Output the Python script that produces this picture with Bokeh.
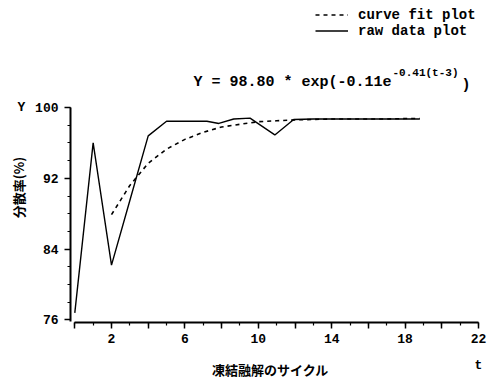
from bokeh.plotting import figure
from bokeh.models import Range1d, FixedTicker, Label, Legend, LegendItem
from bokeh.embed import file_html
from bokeh.resources import INLINE

# ---- data ----
raw_t = [0, 1, 2, 3, 4, 5, 6, 7.2, 7.85, 8.66, 9.55, 10.9, 11.93, 13, 14, 15, 16, 17, 18, 18.8]
raw_y = [76.8, 96.0, 82.2, 89.5, 96.8, 98.45, 98.45, 98.45, 98.2, 98.7, 98.8, 96.9, 98.65,
         98.7, 98.7, 98.7, 98.7, 98.7, 98.7, 98.7]

fit_t = [2, 3, 4, 5, 6, 7, 8, 9, 10, 11, 12, 13, 14, 15, 16, 17, 18, 18.8]
fit_y = [87.9, 91.2, 93.7, 95.3, 96.4, 97.2, 97.8, 98.1, 98.4, 98.5, 98.6, 98.65,
         98.7, 98.7, 98.7, 98.7, 98.75, 98.75]

x_major = [0, 2, 4, 6, 8, 10, 12, 14, 16, 18, 20, 22]
x_labeled = [2, 6, 10, 14, 18, 22]
x_minor = list(range(0, 23))
y_major = [76, 84, 92, 100]
y_minor = list(range(76, 101, 2))

legend_labels = ["curve fit plot", "raw data plot"]
formula_main = "Y = 98.80 * exp(-0.11e"
formula_sup = "-0.41(t-3)"
formula_end = ")"
y_title = "分散率(%)"
x_title = "凍結融解のサイクル"

# ---- layout (frame covers the whole canvas; axes sit at fixed locations) ----
W, H = 488, 378
XS = 18.35          # px per t unit
YS = 8.854          # px per Y unit
X0 = -74.3 / XS     # so that t=0 sits at x=74.3 px
X1 = X0 + W / XS
Y1 = 100 + 107 / YS  # so that Y=100 sits at y=107 px
Y0 = Y1 - H / YS


def dx(sx):  # canvas px -> data
    return X0 + sx / XS


def dy(sy):
    return Y1 - sy / YS


MONO = "Liberation Mono"
CJK = "Noto Sans CJK JP"

p = figure(width=W, height=H, x_range=Range1d(X0, X1), y_range=Range1d(Y0, Y1),
           output_backend="svg", toolbar_location=None, min_border=0)
p.grid.visible = False
p.outline_line_color = None
p.background_fill_color = "white"
p.border_fill_color = "white"

fit = p.line(fit_t, fit_y, line_color="black", line_width=1.6, line_dash="4 4")
raw = p.line(raw_t, raw_y, line_color="black", line_width=1.4)

for ax in (p.xaxis[0], p.yaxis[0]):
    ax.axis_line_width = 2
    ax.axis_line_color = "black"
    ax.major_tick_line_width = 1.5
    ax.minor_tick_line_width = 1.2
    ax.major_tick_line_color = "black"
    ax.minor_tick_line_color = "black"
    ax.major_tick_in = 0
    ax.minor_tick_in = 0
    ax.major_tick_out = 6
    ax.minor_tick_out = 3
    ax.major_label_text_font = MONO
    ax.major_label_text_font_size = "13px"
    ax.major_label_text_font_style = "bold"
    ax.major_label_text_color = "black"

xa = p.xaxis[0]
xa.fixed_location = dy(322)
xa.bounds = (0, 22)
xa.ticker = FixedTicker(ticks=x_major, minor_ticks=x_minor)
xa.major_label_overrides = {t: ("" if t not in x_labeled else str(t)) for t in x_major}
xa.major_label_standoff = 5

ya = p.yaxis[0]
ya.fixed_location = dx(70)
ya.bounds = (dy(321), 100)
ya.ticker = FixedTicker(ticks=y_major, minor_ticks=y_minor)
ya.major_label_standoff = 6

legend = Legend(items=[LegendItem(label=legend_labels[0], renderers=[fit]),
                       LegendItem(label=legend_labels[1], renderers=[raw])],
                location=(315, H - 38.5), orientation="vertical")
legend.border_line_color = None
legend.background_fill_alpha = 0
legend.padding = 0
legend.margin = 0
legend.spacing = 0
legend.glyph_width = 33
legend.glyph_height = 15
legend.label_height = 15
legend.label_standoff = 10
legend.label_text_font = MONO
legend.label_text_font_size = "14px"
legend.label_text_font_style = "bold"
legend.label_text_color = "black"
p.add_layout(legend)


def lab(text, sx, sy, size, font=MONO, align="left", style="bold", angle=0.0):
    p.add_layout(Label(x=dx(sx), y=dy(sy), text=text, text_font=font, text_font_size=size,
                       text_font_style=style, text_align=align, text_baseline="middle",
                       text_color="black", angle=angle))


lab(formula_main, 193, 82, "15px")
lab(formula_sup, 392, 72, "11px")
lab(formula_end, 461, 85, "15px")
lab("Y", 21, 107, "13px", align="center")
lab("t", 478, 365, "13px", align="center")
lab(x_title, 270, 369, "13px", font=CJK, align="center", style="bold")
lab(y_title, 18, 187, "13px", font=CJK, align="center", style="bold", angle=1.5708)

open("out.html", "w").write(file_html(p, INLINE))
